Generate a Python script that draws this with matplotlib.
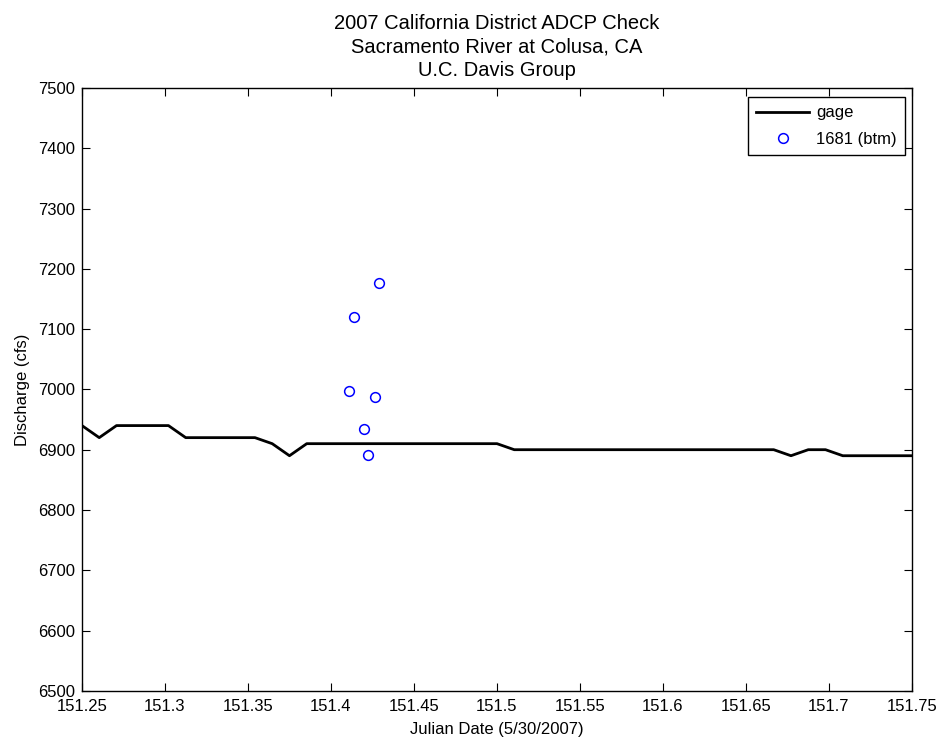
import matplotlib
matplotlib.use('Agg')
import matplotlib.pyplot as plt

plt.rcParams['font.family'] = ['Liberation Sans', 'DejaVu Sans']

# gage record (vertices of the line)
gage_t = [151.2500, 151.2604, 151.2708, 151.3021, 151.3125, 151.3542, 151.3646,
          151.3750, 151.3854, 151.5000, 151.5104, 151.6667, 151.6771, 151.6875,
          151.6979, 151.7083, 151.7500]
gage_q = [6940, 6920, 6940, 6940, 6920, 6920, 6910,
          6890, 6910, 6910, 6900, 6900, 6890, 6900,
          6900, 6890, 6890]

# ADCP measurements
adcp_t = [151.4107, 151.4137, 151.4201, 151.4225, 151.4265, 151.4289]
adcp_q = [6997, 7120, 6934, 6892, 6988, 7177]

x_ticks = [151.25, 151.3, 151.35, 151.4, 151.45, 151.5, 151.55, 151.6, 151.65, 151.7, 151.75]
x_labels = ['151.25', '151.3', '151.35', '151.4', '151.45', '151.5', '151.55', '151.6', '151.65', '151.7', '151.75']
y_ticks = [6500, 6600, 6700, 6800, 6900, 7000, 7100, 7200, 7300, 7400, 7500]

fig = plt.figure(figsize=(9.4, 7.39), dpi=100)
ax = fig.add_axes([0.0872, 0.0652, 0.8830, 0.8157])

ax.plot(gage_t, gage_q, color='black', linewidth=2, label='gage')
ax.plot(adcp_t, adcp_q, linestyle='none', marker='o', markersize=7,
        markerfacecolor='none', markeredgecolor='#0000ff', markeredgewidth=1.1,
        label='1681 (btm)')

ax.set_xlim(151.25, 151.75)
ax.set_ylim(6500, 7500)
ax.set_xticks(x_ticks)
ax.set_xticklabels(x_labels)
ax.set_yticks(y_ticks)
ax.tick_params(direction='in', top=True, right=True, labelsize=12, length=6)
ax.tick_params(axis='x', pad=6)
ax.tick_params(axis='y', pad=5)
for s in ax.spines.values():
    s.set_linewidth(1)

ax.set_xlabel('Julian Date (5/30/2007)', fontsize=12, labelpad=6)
ax.set_ylabel('Discharge (cfs)', fontsize=12, labelpad=6)
ax.set_title('2007 California District ADCP Check\nSacramento River at Colusa, CA\nU.C. Davis Group',
             fontsize=14.5, linespacing=1.3, pad=9)

leg = ax.legend(loc='upper right', bbox_to_anchor=(0.9915, 0.985), fontsize=12,
                fancybox=False, framealpha=1, edgecolor='black', handlelength=3.2,
                borderpad=0.5, labelspacing=0.7, handletextpad=0.4, borderaxespad=0)
leg.get_frame().set_linewidth(1)

fig.savefig('out.png', dpi=100)
